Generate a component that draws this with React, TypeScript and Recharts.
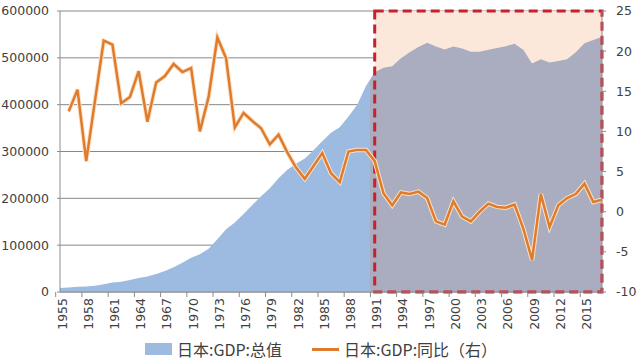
import {
    ComposedChart,
    Area,
    Line,
    XAxis,
    YAxis,
    CartesianGrid,
    ReferenceArea,
    Legend
} from 'recharts';

const years = [
    '1955', '1956', '1957', '1958', '1959', '1960', '1961', '1962', '1963', '1964',
    '1965', '1966', '1967', '1968', '1969', '1970', '1971', '1972', '1973', '1974',
    '1975', '1976', '1977', '1978', '1979', '1980', '1981', '1982', '1983', '1984',
    '1985', '1986', '1987', '1988', '1989', '1990', '1991', '1992', '1993', '1994',
    '1995', '1996', '1997', '1998', '1999', '2000', '2001', '2002', '2003', '2004',
    '2005', '2006', '2007', '2008', '2009', '2010', '2011', '2012', '2013', '2014',
    '2015', '2016', '2017'
];

// 日本:GDP:总值 (left axis)
const gdpTotal = [
    8600, 9700, 11200, 11900, 13600, 16700, 20200, 22000, 25600, 29700,
    32900, 38200, 44700, 53000, 62200, 73300, 80700, 92400, 112500, 134000,
    148300, 166600, 185600, 204400, 221500, 242800, 261100, 274100, 285100, 302900,
    322000, 340000, 352000, 375000, 400000, 440000, 469000, 479000, 482000, 499000,
    512000, 523000, 532000, 524000, 518000, 524000, 520000, 513000, 513000, 517000,
    521000, 525000, 530000, 517000, 488000, 497000, 490000, 493000, 497000, 512000,
    531000, 538000, 545000
];

// 日本:GDP:同比 (right axis, %)
const gdpYoy = [
    null, 12.5, 15.2, 6.3, 13.8, 21.3, 20.8, 13.5, 14.3, 17.5,
    11.2, 16.1, 16.9, 18.4, 17.4, 17.9, 10.0, 14.3, 21.7, 19.1,
    10.5, 12.3, 11.3, 10.4, 8.4, 9.6, 7.4, 5.5, 4.1, 5.7,
    7.3, 4.8, 3.7, 7.5, 7.7, 7.7, 6.3, 2.3, 0.8, 2.4,
    2.2, 2.5, 1.7, -1.2, -1.6, 1.3, -0.6, -1.2, 0.0, 1.0,
    0.6, 0.5, 0.9, -2.1, -6.0, 2.2, -1.9, 0.8, 1.7, 2.2,
    3.5, 1.2, 1.5
];

const leftTicks = [0, 100000, 200000, 300000, 400000, 500000, 600000];
const rightTicks = [-10, -5, 0, 5, 10, 15, 20, 25];
const highlightStart = '1991';
const highlightEnd = '2017';

const data = years.map((year, i) => ({
    year,
    total: gdpTotal[i],
    yoy: gdpYoy[i]
}));

const WIDTH = 640;
const HEIGHT = 364;
const LEFT_W = 60;
const RIGHT_W = 38;
const BAND = (WIDTH - LEFT_W - RIGHT_W) / years.length;
const SPLIT_X = LEFT_W + years.indexOf(highlightStart) * BAND;

const AXIS_TEXT = '#404040';
const FONT = '"DejaVu Sans", sans-serif';
const CJK_FONT = '"Noto Sans CJK SC", sans-serif';

const YearTick = (props: any) => {
    const { x, y, payload } = props;
    return (
        <g>
            <line x1={x - BAND / 2} y1={y - 6} x2={x - BAND / 2} y2={y - 1} stroke="#8c8c8c" />
            <text
                x={x + 2}
                y={y}
                transform={`rotate(-90, ${x + 2}, ${y})`}
                textAnchor="end"
                dominantBaseline="central"
                fill={AXIS_TEXT}
                fontSize={12.5}
                fontFamily={FONT}
            >
                {payload.value}
            </text>
        </g>
    );
};

const LegendContent = (props: any) => {
    // area entry first, then the line; skip the glow helper
    const items = (props.payload || [])
        .filter((entry: any) => entry.type !== 'none')
        .sort((a: any, b: any) => (a.type === 'rect' ? -1 : 0) - (b.type === 'rect' ? -1 : 0));
    return (
        <div style={{
            display: 'flex',
            alignItems: 'center',
            paddingLeft: 145,
            height: 30,
            fontFamily: CJK_FONT,
            fontSize: 16,
            color: AXIS_TEXT
        }}>
            {items.map((entry: any, i: number) => (
                <div key={i} style={{ display: 'flex', alignItems: 'center', marginRight: 30 }}>
                    {entry.type === 'rect' ? (
                        <span style={{ display: 'inline-block', width: 27, height: 12, background: '#9dbbe0', marginRight: 5 }} />
                    ) : (
                        <span style={{ display: 'inline-block', width: 27, height: 3, background: entry.color, marginRight: 5 }} />
                    )}
                    <span>{entry.value}</span>
                </div>
            ))}
        </div>
    );
};

const App = () => {
    return (
        <div style={{ position: 'absolute', left: 0, top: 0, width: WIDTH, height: HEIGHT, background: '#fff' }}>
            <ComposedChart
                width={WIDTH}
                height={HEIGHT}
                data={data}
                margin={{ top: 11, right: 0, left: 0, bottom: 0 }}
            >
                <defs>
                    <linearGradient id="gdpFill" gradientUnits="userSpaceOnUse" x1={0} y1={0} x2={WIDTH} y2={0}>
                        <stop offset={SPLIT_X / WIDTH} stopColor="#9dbbe0" />
                        <stop offset={SPLIT_X / WIDTH} stopColor="#a9adbf" />
                    </linearGradient>
                </defs>

                {/* peach background of the highlighted period */}
                <ReferenceArea
                    yAxisId="left"
                    x1={highlightStart}
                    x2={highlightEnd}
                    fill="#fbe8da"
                    fillOpacity={1}
                    stroke="none"
                    ifOverflow="visible"
                />

                <CartesianGrid yAxisId="left" vertical={false} stroke="#888888" />

                <XAxis
                    dataKey="year"
                    interval={2}
                    height={42}
                    tickLine={false}
                    tickSize={0}
                    tickMargin={6}
                    stroke="#8c8c8c"
                    tick={<YearTick />}
                />
                <YAxis
                    yAxisId="left"
                    width={LEFT_W}
                    domain={[0, 600000]}
                    ticks={leftTicks}
                    tickSize={3}
                    tickMargin={8}
                    stroke="#8c8c8c"
                    tick={{ fill: AXIS_TEXT, fontSize: 12.5, fontFamily: FONT }}
                />
                <YAxis
                    yAxisId="right"
                    orientation="right"
                    width={RIGHT_W}
                    domain={[-10, 25]}
                    ticks={rightTicks}
                    tickSize={4}
                    tickMargin={10}
                    stroke="#8c8c8c"
                    tick={{ fill: AXIS_TEXT, fontSize: 12.5, fontFamily: FONT, textAnchor: 'start' }}
                />

                <Area
                    yAxisId="left"
                    type="linear"
                    dataKey="total"
                    name="日本:GDP:总值"
                    stroke="none"
                    fill="url(#gdpFill)"
                    fillOpacity={1}
                    legendType="rect"
                    isAnimationActive={false}
                />

                {/* red dashed frame */}
                <ReferenceArea
                    yAxisId="left"
                    x1={highlightStart}
                    x2={highlightEnd}
                    fill="none"
                    stroke="#c8202c"
                    strokeWidth={3}
                    strokeDasharray="9 5"
                    ifOverflow="visible"
                />

                {/* soft glow under the growth line */}
                <Line
                    yAxisId="right"
                    type="linear"
                    dataKey="yoy"
                    stroke="#fbe2c8"
                    strokeWidth={4.5}
                    dot={false}
                    activeDot={false}
                    legendType="none"
                    isAnimationActive={false}
                />
                <Line
                    yAxisId="right"
                    type="linear"
                    dataKey="yoy"
                    name="日本:GDP:同比（右）"
                    stroke="#df7b2c"
                    strokeWidth={2.5}
                    dot={false}
                    legendType="line"
                    isAnimationActive={false}
                />

                <Legend verticalAlign="bottom" height={30} content={<LegendContent />} />
            </ComposedChart>
        </div>
    );
};

export default App;
